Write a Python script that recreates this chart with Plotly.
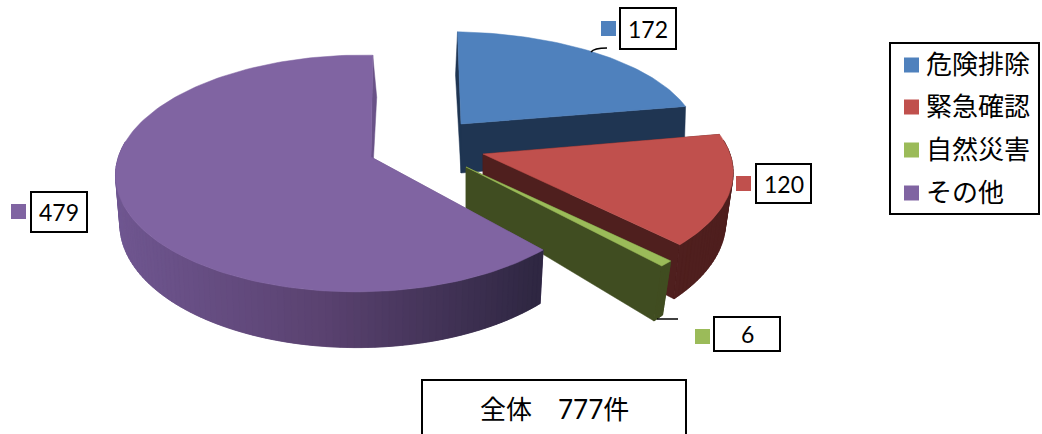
import numpy as np
import plotly.graph_objects as go

# Chart data
categories = ["危険排除", "緊急確認", "自然災害", "その他"]
counts = [172, 120, 6, 479]
total_label = "全体　777件"

# Slice styling
top_colors = ["#4f81bd", "#c0504d", "#9bbb59", "#8064a2"]
cut_colors = ["#1f3552", "#4f1f1e", "#404d21", "#6a5288"]
rim_stops = [
    ["#1f3552", "#1f3552"],
    ["#4f1f1e", "#4f1f1e"],
    ["#404d21", "#404d21"],
    ["#705791", "#5a4270", "#2f2742"],
]

# Per-slice projection of the tilted, pulled-apart pie (pixels on the page)
slice_views = [
    dict(apex=(461, 124), rx=245, ry=105, p=0.139, q=0.046, lean=-4, depth=49, dp=0.139, taper=0.005, drift=-2),
    dict(apex=(483, 154), rx=252, ry=115, p=0.160, q=0.020, lean=0, depth=48, dp=0.160, taper=0.03, drift=0),
    dict(apex=(466, 167), rx=262, ry=119, p=0.160, q=0.020, lean=0, depth=41, dp=0.342, taper=0.04, drift=0),
    dict(apex=(371, 157), rx=241, ry=116, p=0.139, q=0.046, lean=2, depth=48, dp=0.139, taper=0.017, drift=4),
]


def project(view, wx, wy, lower=False):
    w = 1 + view["p"] * wy + view["q"] * wx
    dx = (view["rx"] * wx + view["lean"] * wy) / w
    dy = -view["ry"] * wy / w
    if lower:
        dx = dx * (1 - view["taper"]) + view["drift"] * np.maximum(wy, 0)
        dy = dy + view["depth"] / (1 + view["dp"] * wy)
    return view["apex"][0] + dx, view["apex"][1] + dy


def hex_rgb(c):
    return np.array([int(c[i:i + 2], 16) for i in (1, 3, 5)], dtype=float)


def ramp(stops, t):
    pos = t * (len(stops) - 1)
    i = min(int(pos), len(stops) - 2)
    mix = hex_rgb(stops[i]) * (1 - (pos - i)) + hex_rgb(stops[i + 1]) * (pos - i)
    return "rgb(%d,%d,%d)" % tuple(mix)


def polygon(xs, ys, color):
    return go.Scatter(x=list(xs), y=list(ys), mode="lines", fill="toself",
                      fillcolor=color, line=dict(color=color, width=0.5),
                      hoverinfo="skip", showlegend=False)


fig = go.Figure()
edges = np.concatenate([[0], np.cumsum(counts)]) / sum(counts) * 2 * np.pi

for k, view in enumerate(slice_views):
    a0, a1 = edges[k], edges[k + 1]
    theta = np.linspace(a0, a1, max(6, int((a1 - a0) * 40)))

    # Cut faces
    for a in (a0, a1):
        t0, b0 = project(view, 0, 0), project(view, 0, 0, True)
        t1 = project(view, np.sin(a), np.cos(a))
        b1 = project(view, np.sin(a), np.cos(a), True)
        fig.add_trace(polygon([t0[0], t1[0], b1[0], b0[0], t0[0]],
                              [t0[1], t1[1], b1[1], b0[1], t0[1]], cut_colors[k]))

    # Outer rim on the side facing the viewer; each band is widened so it laps
    # over its neighbours and no seams show
    tx, ty = project(view, np.sin(theta), np.cos(theta))
    bx, by = project(view, np.sin(theta), np.cos(theta), True)
    front = np.where(np.cos(theta) < 0.15)[0]
    if len(front) > 1:
        xmin, xmax = tx[front].min(), tx[front].max()
        for i in front[np.argsort(tx[front])]:
            seg = np.arange(max(i - 1, front[0]), min(i + 2, front[-1] + 1))
            if len(seg) < 2:
                continue
            t = (tx[i] - xmin) / max(xmax - xmin, 1)
            fig.add_trace(polygon(np.concatenate([tx[seg], bx[seg][::-1], tx[seg][:1]]),
                                  np.concatenate([ty[seg], by[seg][::-1], ty[seg][:1]]),
                                  ramp(rim_stops[k], t)))

    # Top face
    ax, ay = project(view, 0, 0)
    fig.add_trace(polygon(np.concatenate([[ax], tx, [ax]]),
                          np.concatenate([[ay], ty, [ay]]), top_colors[k]))

# Value labels: swatch, boxed number
label_boxes = [(620, 8, 676, 49), (756, 164, 811, 203), (714, 317, 780, 351), (31, 192, 87, 232)]
label_swatches = [(608.5, 28.5), (743.5, 183.5), (702.5, 336.5), (18.5, 211.5)]
legend_box = (890, 43, 1039, 214)
legend_rows = [65, 107, 150, 193]
total_box = (422, 380, 686, 450)

shapes = []
annotations = []
LATIN = "Lato, 'Noto Sans CJK JP', sans-serif"
CJK = "'Noto Sans CJK JP', sans-serif"


def boxed(b):
    shapes.append(dict(type="rect", xref="x", yref="y", x0=b[0], y0=b[1], x1=b[2], y1=b[3],
                       line=dict(color="black", width=2), fillcolor="white", layer="below"))


for k, box in enumerate(label_boxes):
    boxed(box)
    annotations.append(dict(x=(box[0] + box[2]) / 2, y=(box[1] + box[3]) / 2, xref="x", yref="y",
                            text=str(counts[k]), showarrow=False,
                            font=dict(family=LATIN, size=23, color="black")))
    fig.add_trace(go.Scatter(x=[label_swatches[k][0]], y=[label_swatches[k][1]], mode="markers",
                             marker=dict(symbol="square", size=15, color=top_colors[k]),
                             hoverinfo="skip", showlegend=False))

# Leader lines
shapes.append(dict(type="path", path="M 591 52 Q 594 48 607 48", xref="x", yref="y",
                   line=dict(color="black", width=1.5), layer="above"))
shapes.append(dict(type="line", x0=657, y0=319, x1=678, y1=319, xref="x", yref="y",
                   line=dict(color="black", width=1.5), layer="above"))

# Legend
boxed(legend_box)
for k, name in enumerate(categories):
    fig.add_trace(go.Scatter(x=[911.5], y=[legend_rows[k]], mode="markers",
                             marker=dict(symbol="square", size=15, color=top_colors[k]),
                             hoverinfo="skip", showlegend=False))
    annotations.append(dict(x=924, y=legend_rows[k] - 3, xref="x", yref="y", xanchor="left",
                            text=name, showarrow=False,
                            font=dict(family=CJK, size=26, color="black")))

# Total
boxed(total_box)
annotations.append(dict(x=554, y=409, xref="x", yref="y", text=total_label,
                        showarrow=False, font=dict(family=LATIN, size=26, color="black")))

fig.update_layout(
    width=1042, height=434, margin=dict(l=0, r=0, t=0, b=0),
    paper_bgcolor="white", plot_bgcolor="white", showlegend=False,
    xaxis=dict(range=[0, 1042], visible=False, fixedrange=True),
    yaxis=dict(range=[434, 0], visible=False, fixedrange=True),
    shapes=shapes, annotations=annotations,
)
fig.write_html("out.html")
